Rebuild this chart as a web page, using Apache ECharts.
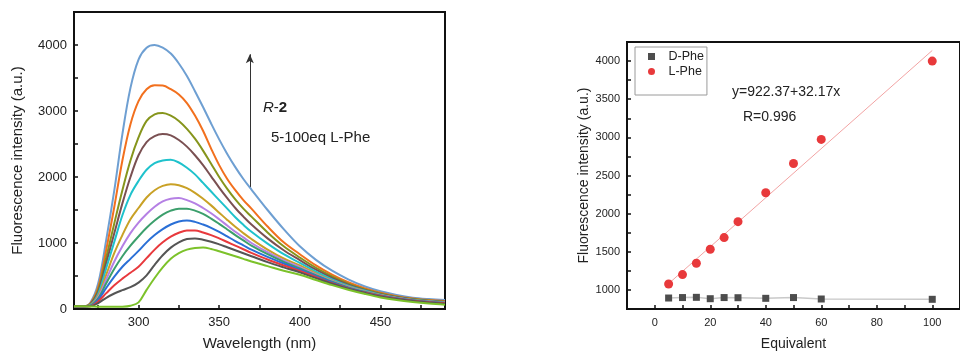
<!DOCTYPE html>
<html>
<head>
<meta charset="utf-8">
<script src="https://cdn.jsdelivr.net/npm/echarts@6/dist/echarts.min.js"></script>
<style>
  html, body { margin: 0; background: #fff; }
  #chart { width: 960px; height: 356px; }
</style>
</head>
<body>
<div id="chart"></div>
<script>
// Left panel: emission spectra, R-2 with 5-100 eq L-Phe
const wavelengths = [260, 266, 270, 275, 280, 285, 290, 295, 300, 305, 310, 315, 320, 325, 330, 335, 340, 345, 350,
  355, 360, 365, 370, 380, 390, 400, 410, 420, 430, 440, 450, 460, 470, 480, 490]

const spectra = [
  [40, 40, 90, 390, 1050, 1800, 2650, 3350, 3780, 3960, 4000, 3960, 3870, 3720, 3530, 3300, 3060, 2810, 2570, 2350, 2150, 1970, 1810, 1500, 1210, 950, 745, 580, 450, 345, 268, 212, 172, 150, 135],
  [40, 40, 80, 330, 900, 1550, 2250, 2800, 3150, 3330, 3390, 3385, 3330, 3250, 3120, 2930, 2700, 2430, 2180, 1970, 1800, 1650, 1520, 1250, 1010, 830, 660, 520, 405, 315, 245, 195, 160, 135, 120],
  [40, 40, 70, 290, 780, 1300, 1800, 2250, 2600, 2850, 2950, 2970, 2930, 2850, 2730, 2580, 2400, 2200, 2000, 1820, 1660, 1520, 1400, 1160, 950, 780, 625, 495, 385, 300, 235, 185, 150, 127, 112],
  [40, 40, 65, 260, 700, 1150, 1600, 2000, 2330, 2530, 2620, 2650, 2630, 2560, 2460, 2330, 2180, 2010, 1840, 1680, 1530, 1400, 1280, 1070, 890, 740, 595, 470, 370, 290, 225, 178, 145, 122, 108],
  [40, 40, 60, 230, 620, 1020, 1420, 1730, 1940, 2110, 2210, 2250, 2260, 2220, 2140, 2040, 1910, 1780, 1650, 1520, 1390, 1275, 1170, 990, 830, 700, 565, 450, 355, 280, 218, 172, 140, 118, 104],
  [40, 40, 55, 200, 520, 850, 1120, 1360, 1530, 1690, 1800, 1865, 1890, 1875, 1830, 1760, 1670, 1570, 1460, 1350, 1245, 1150, 1060, 900, 765, 660, 540, 430, 340, 270, 212, 168, 137, 115, 100],
  [40, 40, 50, 180, 450, 720, 950, 1150, 1310, 1440, 1550, 1630, 1670, 1680, 1650, 1600, 1530, 1450, 1360, 1265, 1170, 1085, 1000, 860, 735, 635, 525, 420, 333, 265, 208, 165, 134, 112, 97],
  [40, 40, 50, 160, 390, 610, 800, 960, 1100, 1230, 1340, 1430, 1490, 1520, 1520, 1490, 1440, 1370, 1290, 1205, 1120, 1040, 960, 830, 715, 615, 512, 412, 327, 260, 204, 162, 132, 110, 94],
  [40, 40, 45, 140, 320, 490, 640, 760, 880, 1010, 1120, 1210, 1280, 1325, 1340, 1320, 1280, 1230, 1170, 1100, 1030, 965, 900, 790, 690, 595, 497, 402, 320, 255, 200, 159, 128, 106, 90],
  [40, 40, 42, 115, 240, 360, 460, 550, 640, 770, 900, 1010, 1095, 1155, 1190, 1190, 1160, 1120, 1070, 1015, 960, 905, 850, 750, 660, 575, 482, 392, 313, 250, 196, 155, 125, 103, 86],
  [40, 40, 40, 90, 170, 235, 285, 330, 400, 510, 670, 815, 930, 1010, 1060, 1070, 1050, 1020, 980, 935, 890, 845, 800, 710, 630, 555, 467, 382, 306, 245, 190, 150, 120, 98, 80],
  [40, 40, 38, 35, 33, 33, 35, 50, 100, 290, 470, 630, 760, 845, 900, 925, 930, 910, 875, 838, 800, 760, 720, 650, 580, 520, 440, 362, 292, 230, 175, 135, 105, 82, 65]
]

const spectrumColors = ['#6e9fd2', '#f2701e', '#86951c', '#7a5052', '#1fc2cc', '#c9a126',
  '#b580e4', '#3c9f6c', '#2a6fd6', '#e8393d', '#555555', '#7cc22a']

const spectrumTicks = [275, 300, 325, 350, 375, 400, 425, 450, 475]
const spectrumLabels = [300, 350, 400, 450]
const intensityTicks = [0, 500, 1000, 1500, 2000, 2500, 3000, 3500, 4000]
const intensityLabels = [0, 1000, 2000, 3000, 4000]
const arrowLine = [[369, 1850], [369, 3860]]

// Right panel: intensity vs equivalents
const equivalents = [5, 10, 15, 20, 25, 30, 40, 50, 60, 100]
const dPhe = [894, 900, 903, 885, 900, 898, 890, 900, 881, 877]
const lPhe = [1078, 1201, 1350, 1533, 1686, 1895, 2274, 2658, 2973, 4000]
const fitLine = [[5, 1083], [100, 4139]]
const eqTicks = [0, 10, 20, 30, 40, 50, 60, 70, 80, 90, 100]
const eqLabels = [0, 20, 40, 60, 80, 100]
const fiTicks = [1000, 1250, 1500, 1750, 2000, 2250, 2500, 2750, 3000, 3250, 3500, 3750, 4000]
const fiLabels = [1000, 1500, 2000, 2500, 3000, 3500, 4000]

const FONT = 'Liberation Sans, Arial, sans-serif'
const ink = '#111'

function axisBase (ticks, labels, fontSize, margin) {
  return {
    type: 'value',
    axisLine: { show: true, onZero: false, lineStyle: { color: ink, width: 2 } },
    axisTick: { show: true, inside: true, length: 4, customValues: ticks, lineStyle: { color: ink, width: 1.5 } },
    axisLabel: {
      customValues: labels,
      formatter: v => String(v),
      color: '#222', fontSize: fontSize, fontFamily: FONT, margin: margin
    },
    splitLine: { show: false },
    nameLocation: 'middle',
    nameTextStyle: { color: '#222', fontFamily: FONT }
  }
}

const chart = echarts.init(document.getElementById('chart'))

const spectrumSeries = spectra.map((vals, i) => ({
  type: 'line',
  name: 'spectrum ' + (i + 1),
  xAxisIndex: 0,
  yAxisIndex: 0,
  data: wavelengths.map((w, j) => [w, vals[j]]),
  smooth: 0.35,
  showSymbol: false,
  silent: true,
  lineStyle: { width: 2, color: spectrumColors[i] },
  itemStyle: { color: spectrumColors[i] },
  z: 2 + i
}))

spectrumSeries[0].markLine = {
  silent: true,
  symbol: ['none', 'arrow'],
  symbolSize: [6, 9],
  label: { show: false },
  lineStyle: { color: '#333', width: 1, type: 'solid' },
  data: [[{ coord: arrowLine[0] }, { coord: arrowLine[1] }]]
}

chart.setOption({
  animation: false,
  textStyle: { fontFamily: FONT },
  grid: [
    { left: 74, right: 515, top: 12, bottom: 47, show: true, borderColor: ink, borderWidth: 2 },
    { left: 627, right: -5, top: 42, bottom: 41, show: true, borderColor: ink, borderWidth: 2 }
  ],
  xAxis: [
    Object.assign(axisBase(spectrumTicks, spectrumLabels, 13, 7), {
      gridIndex: 0, min: 260, max: 490,
      name: 'Wavelength (nm)', nameGap: 27,
      nameTextStyle: { color: '#222', fontFamily: FONT, fontSize: 15 }
    }),
    Object.assign(axisBase(eqTicks, eqLabels, 11, 8), {
      gridIndex: 1, min: -10, max: 110,
      name: 'Equivalent', nameGap: 28,
      nameTextStyle: { color: '#222', fontFamily: FONT, fontSize: 14 }
    })
  ],
  yAxis: [
    Object.assign(axisBase(intensityTicks, intensityLabels, 13, 7), {
      gridIndex: 0, min: 0, max: 4500,
      name: 'Fluorescence intensity (a.u.)', nameGap: 49,
      nameTextStyle: { color: '#222', fontFamily: FONT, fontSize: 15 }
    }),
    Object.assign(axisBase(fiTicks, fiLabels, 11, 7), {
      gridIndex: 1, min: 750, max: 4250,
      name: 'Fluorescence intensity (a.u.)', nameGap: 31,
      nameTextStyle: { color: '#222', fontFamily: FONT, fontSize: 14 }
    })
  ],
  legend: {
    data: [
      { name: 'D-Phe', icon: 'path://M0,0L10,0L10,10L0,10Z' },
      { name: 'L-Phe', icon: 'circle' }
    ],
    orient: 'vertical',
    left: 635,
    top: 47,
    padding: [3, 3, 17, 13],
    itemGap: 2,
    itemWidth: 24,
    itemHeight: 7,
    symbolKeepAspect: true,
    borderColor: '#9a9a9a',
    borderWidth: 1,
    textStyle: { color: '#222', fontSize: 12.5, fontFamily: FONT }
  },
  graphic: [
    {
      type: 'text', left: 263, top: 100,
      style: {
        text: '{i|R}{n|-}{b|2}',
        rich: {
          i: { fontStyle: 'italic', fontSize: 15, fontFamily: FONT, fill: '#222' },
          n: { fontSize: 15, fontFamily: FONT, fill: '#222' },
          b: { fontWeight: 'bold', fontSize: 15, fontFamily: FONT, fill: '#222' }
        }
      }
    },
    { type: 'text', left: 271, top: 130, style: { text: '5-100eq L-Phe', fontSize: 15, fontFamily: FONT, fill: '#222' } },
    { type: 'text', left: 732, top: 85, style: { text: 'y=922.37+32.17x', fontSize: 14, fontFamily: FONT, fill: '#222' } },
    { type: 'text', left: 743, top: 110, style: { text: 'R=0.996', fontSize: 14, fontFamily: FONT, fill: '#222' } }
  ],
  series: spectrumSeries.concat([
    {
      type: 'line',
      name: 'fit',
      xAxisIndex: 1, yAxisIndex: 1,
      data: fitLine,
      showSymbol: false,
      silent: true,
      lineStyle: { color: '#f2a3a3', width: 1 },
      z: 3
    },
    {
      type: 'line',
      name: 'D-Phe',
      xAxisIndex: 1, yAxisIndex: 1,
      data: equivalents.map((x, i) => [x, dPhe[i]]),
      symbol: 'rect',
      symbolSize: 7,
      showAllSymbol: true,
      lineStyle: { color: '#c9c9c9', width: 1.5 },
      itemStyle: { color: '#4d4d4d' },
      z: 4
    },
    {
      type: 'scatter',
      name: 'L-Phe',
      xAxisIndex: 1, yAxisIndex: 1,
      data: equivalents.map((x, i) => [x, lPhe[i]]),
      symbol: 'circle',
      symbolSize: 9,
      itemStyle: { color: '#e8393b', opacity: 1 },
      z: 5
    }
  ])
})
</script>
</body>
</html>
